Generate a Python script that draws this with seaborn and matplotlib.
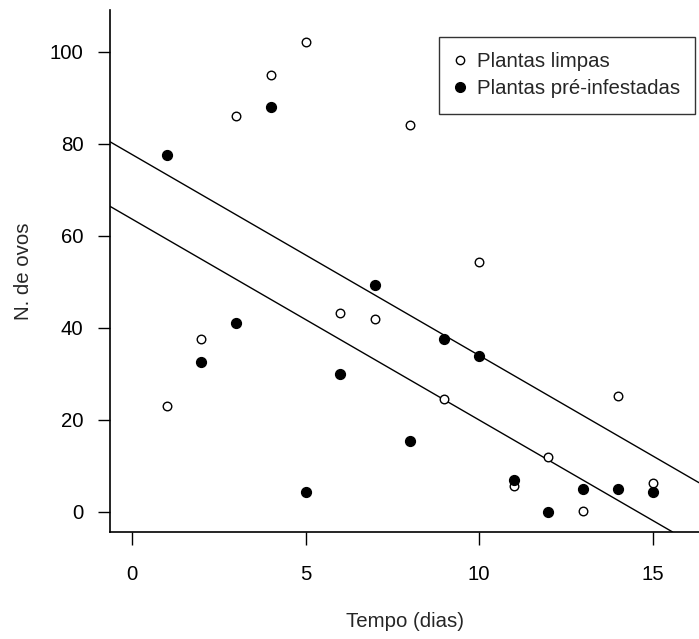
import numpy as np
import pandas as pd
import matplotlib
matplotlib.use("Agg")
import matplotlib.pyplot as plt
from matplotlib.lines import Line2D
import seaborn as sns

tempo = [1, 2, 3, 4, 5, 6, 7, 8, 9, 10, 11, 12, 13, 14, 15]
ovos_limpas = [23, 37.6, 86.1, 95, 102.2, 43.3, 42, 84.1, 24.6, 54.3, 5.7, 12, 0.2, 25.2, 6.3]
ovos_pre = [77.6, 32.6, 41.1, 88, 4.3, 30, 49.3, 15.4, 37.6, 33.9, 7, 0, 5, 5, 4.3]
labels = ["Plantas limpas", "Plantas pré-infestadas"]
xticks = [0, 5, 10, 15]
yticks = [0, 20, 40, 60, 80, 100]

sns.set_style("ticks")
plt.rcParams['font.family'] = ['Liberation Sans', 'DejaVu Sans']

df = pd.DataFrame({
    "tempo": tempo * 2,
    "ovos": ovos_limpas + ovos_pre,
    "grupo": [labels[0]] * len(tempo) + [labels[1]] * len(tempo),
})

fig = plt.figure(figsize=(6.99, 6.39), dpi=100)
ax = fig.add_axes([110 / 699, 107 / 639, 589 / 699, 522 / 639])

sns.scatterplot(data=df[df.grupo == labels[0]], x="tempo", y="ovos", ax=ax,
                marker="o", s=38, facecolor="white", edgecolor="black", linewidth=1.0,
                legend=False, zorder=3)
sns.scatterplot(data=df[df.grupo == labels[1]], x="tempo", y="ovos", ax=ax,
                marker="o", s=50, color="black", edgecolor="black", linewidth=1.0,
                legend=False, zorder=3)

# common-slope (ANCOVA) fitted lines
x = np.array(tempo, dtype=float)
ya = np.array(ovos_limpas)
yb = np.array(ovos_pre)
xc = x - x.mean()
slope = (np.sum(xc * (ya - ya.mean())) + np.sum(xc * (yb - yb.mean()))) / (2 * np.sum(xc ** 2))
for yy in (ya, yb):
    b0 = yy.mean() - slope * x.mean()
    ax.axline((0, b0), slope=slope, color="black", lw=1.0, zorder=2)

ax.set_xlim(-0.634, 16.34)
ax.set_ylim(-4.35, 109.1)
ax.set_xticks(xticks)
ax.set_yticks(yticks)
ax.set_xticklabels([str(v) for v in xticks])
ax.set_yticklabels([str(v) for v in yticks])
ax.tick_params(axis="both", direction="out", length=9, width=1.0, labelsize=14.7, colors="black")
ax.tick_params(axis="x", pad=15)
ax.tick_params(axis="y", pad=10)
for s in ["top", "right"]:
    ax.spines[s].set_visible(False)
for s in ["left", "bottom"]:
    ax.spines[s].set_linewidth(1.2)
    ax.spines[s].set_color("black")

ax.set_xlabel("Tempo (dias)", fontsize=14.7, labelpad=20)
ax.set_ylabel("N. de ovos", fontsize=14.7, labelpad=12)

handles = [
    Line2D([], [], marker="o", ls="none", markersize=6, markerfacecolor="white", markeredgecolor="black"),
    Line2D([], [], marker="o", ls="none", markersize=7, markerfacecolor="black", markeredgecolor="black"),
]
leg = ax.legend(handles, labels, loc="upper left",
                bbox_to_anchor=(439 / 699, 1 - 37 / 639), bbox_transform=fig.transFigure,
                fontsize=14.7, frameon=True, fancybox=False, edgecolor="black",
                handlelength=0.6, handletextpad=0.5, borderpad=0.75, labelspacing=0.4,
                borderaxespad=0)
leg.get_frame().set_linewidth(1.0)

fig.savefig("out.png", dpi=100)
